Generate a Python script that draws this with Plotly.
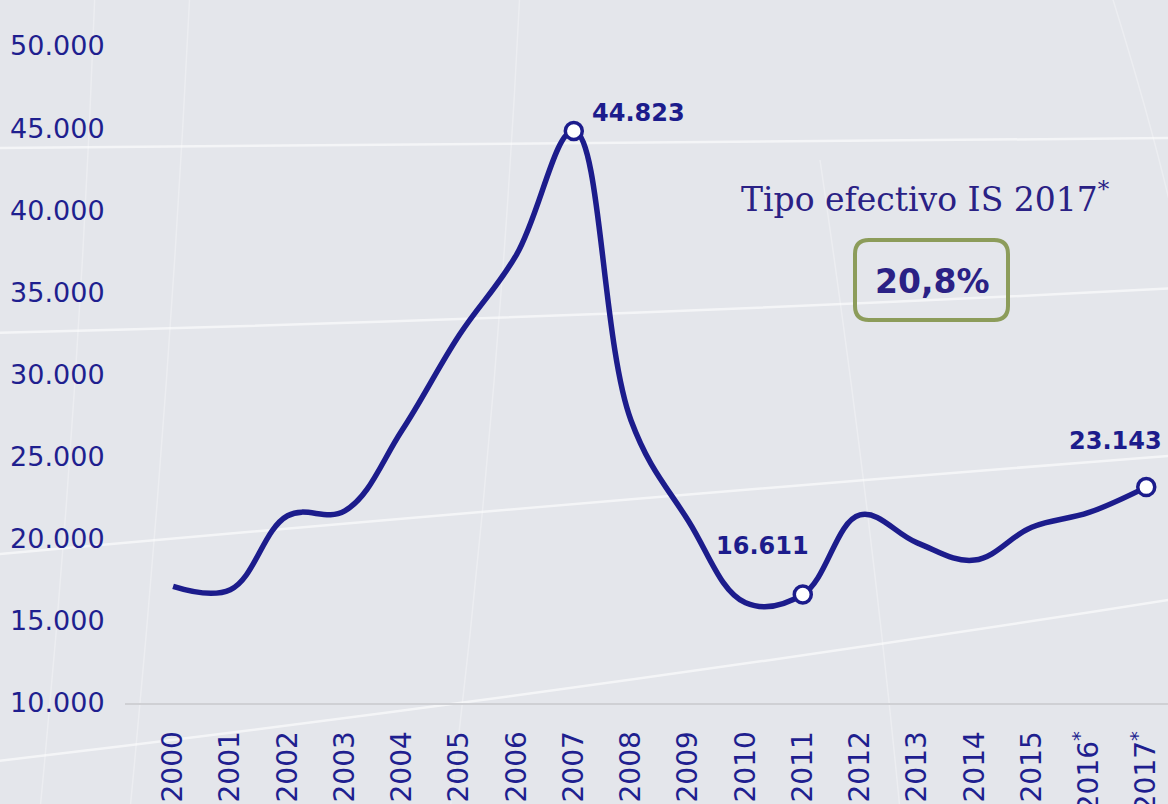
import plotly.graph_objects as go

# datos
years = [str(y) for y in range(2000, 2018)]
year_labels = years[:16] + ['2016<sup>*</sup>', '2017<sup>*</sup>']
values = [17100, 16900, 21400, 21700, 26600, 32400, 37300, 44823, 27200,
          21100, 16100, 16611, 21450, 19750, 18700, 20700, 21600, 23143]
highlight_years = ['2007', '2011', '2017']
y_ticks = [10000, 15000, 20000, 25000, 30000, 35000, 40000, 45000, 50000]

NAVY = '#1c1c8c'
TEXT = '#2a2185'

# area del grafico en pixeles (para decoracion)
L, R, T, B = 125, 1168, 0, 703


def px(x, y):
    return (x - L) / (R - L), (B - y) / (B - T)


def curve(p0, c, p1):
    x0, y0 = px(*p0)
    cx, cy = px(*c)
    x1, y1 = px(*p1)
    return f'M {x0},{y0} Q {cx},{cy} {x1},{y1}'


def rounded_rect(x0, y0, x1, y1, r):
    pts = [
        ('M', (x0 + r, y0)), ('L', (x1 - r, y0)), ('Q', (x1, y0), (x1, y0 + r)),
        ('L', (x1, y1 - r)), ('Q', (x1, y1), (x1 - r, y1)), ('L', (x0 + r, y1)),
        ('Q', (x0, y1), (x0, y1 - r)), ('L', (x0, y0 + r)), ('Q', (x0, y0), (x0 + r, y0)),
    ]
    out = []
    for p in pts:
        coords = ' '.join('%f,%f' % px(*q) for q in p[1:])
        out.append(f'{p[0]} {coords}')
    return ' '.join(out) + ' Z'


fig = go.Figure()

# fondo: lineas curvas tipo globo
h_lines = [
    ((-10, 148), (600, 143), (1180, 138)),
    ((-10, 333), (600, 318), (1180, 288)),
    ((-10, 555), (600, 500), (1180, 455)),
    ((-10, 762), (600, 690), (1180, 598)),
]
v_lines = [
    ((95, -10), (80, 400), (40, 810)),
    ((190, -10), (170, 400), (130, 810)),
    ((520, -10), (500, 400), (450, 810)),
    ((1110, -10), (1160, 150), (1180, 250)),
    ((820, 160), (870, 500), (900, 810)),
]
shapes = []
for a, c, b in h_lines:
    shapes.append(dict(type='path', xref='paper', yref='paper', path=curve(a, c, b),
                       line=dict(color='rgba(255,255,255,0.6)', width=2.5), layer='below'))
for a, c, b in v_lines:
    shapes.append(dict(type='path', xref='paper', yref='paper', path=curve(a, c, b),
                       line=dict(color='rgba(255,255,255,0.3)', width=1.5), layer='below'))

# recuadro del tipo efectivo
shapes.append(dict(type='path', xref='paper', yref='paper',
                   path=rounded_rect(855, 240, 1008, 320, 14),
                   line=dict(color='#8c9c5a', width=4), layer='above'))

fig.add_trace(go.Scatter(
    x=years, y=values, mode='lines',
    line=dict(color=NAVY, width=5.5, shape='spline', smoothing=1.1),
    hoverinfo='skip', showlegend=False))

hx = [y for y in years if y in highlight_years]
hy = [v for y, v in zip(years, values) if y in highlight_years]
fig.add_trace(go.Scatter(
    x=hx, y=hy, mode='markers',
    marker=dict(size=17, color='white', line=dict(color=NAVY, width=3.5)),
    showlegend=False))

# etiquetas de valores
label_style = {'2007': ('left', 16, 18), '2011': ('center', -40, 48), '2017': ('center', -31, 46)}
annotations = []
for x, v in zip(hx, hy):
    anchor, xs, ys = label_style[x]
    annotations.append(dict(
        x=years.index(x), y=v, text=f'{v:,}'.replace(',', '.'), showarrow=False,
        xanchor=anchor, yanchor='middle', xshift=xs, yshift=ys,
        font=dict(family='DejaVu Sans', size=24, color=NAVY, weight='bold')))

tx, ty = px(925, 197)
annotations.append(dict(
    x=tx, y=ty, xref='paper', yref='paper', showarrow=False,
    text='Tipo efectivo IS 2017<sup>*</sup>', xanchor='center', yanchor='middle',
    font=dict(family='DejaVu Serif', size=33, color=TEXT)))
bx, by = px(932, 281)
annotations.append(dict(
    x=bx, y=by, xref='paper', yref='paper', showarrow=False,
    text='20,8%', xanchor='center', yanchor='middle',
    font=dict(family='DejaVu Sans', size=33, color=TEXT, weight='bold')))

fig.update_layout(
    width=1168, height=804,
    margin=dict(l=L, r=0, t=T, b=804 - B, autoexpand=False),
    paper_bgcolor='#e4e6eb', plot_bgcolor='rgba(0,0,0,0)',
    separators=',.',
    shapes=shapes, annotations=annotations,
    font=dict(family='DejaVu Sans', color='#1f1f8f'),
)
fig.update_xaxes(
    type='category', range=[-0.84, 17.38],
    tickvals=years, ticktext=year_labels, tickangle=-90,
    tickfont=dict(size=28, color='#1f1f8f'),
    ticks='outside', ticklen=15, tickcolor='rgba(0,0,0,0)',
    showgrid=False, showline=True, linecolor='#cfd0d4', linewidth=2,
    automargin=False, zeroline=False)
fig.update_yaxes(
    range=[10000, 52800], tickvals=y_ticks, tickformat=',d',
    tickfont=dict(size=27, color='#1f1f8f'),
    ticks='outside', ticklen=14, tickcolor='rgba(0,0,0,0)',
    showgrid=False, zeroline=False, showline=False, automargin=False)

fig.write_html('out.html', config={'displayModeBar': False},
               post_script="document.body.style.margin='0';")
